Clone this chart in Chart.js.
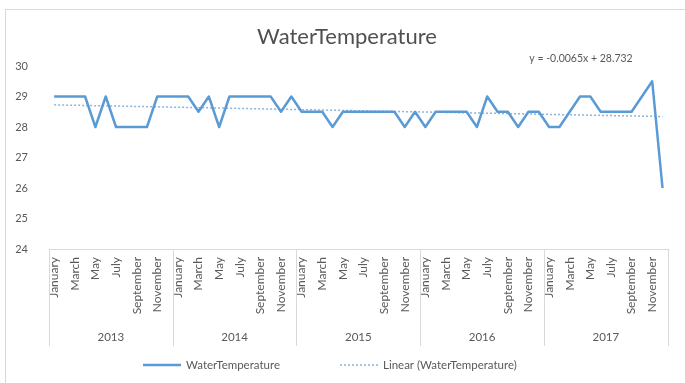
<!DOCTYPE html>
<html>
<head>
<meta charset="utf-8">
<script src="https://cdn.jsdelivr.net/npm/chart.js@4/dist/chart.umd.min.js"></script>
<style>
  html, body { margin: 0; padding: 0; background: #ffffff; }
  #wrap { width: 685px; height: 383px; }
</style>
</head>
<body>
<div id="wrap"><canvas id="c" width="685" height="383"></canvas></div>
<script>
// Monthly water temperature, 2013–2017
const years = ['2013', '2014', '2015', '2016', '2017'];
const months = ['January', 'February', 'March', 'April', 'May', 'June',
                'July', 'August', 'September', 'October', 'November', 'December'];

const temp2013 = [29, 29, 29, 29, 28, 29, 28, 28, 28, 28, 29, 29];
const temp2014 = [29, 29, 28.5, 29, 28, 29, 29, 29, 29, 29, 28.5, 29];
const temp2015 = [28.5, 28.5, 28.5, 28, 28.5, 28.5, 28.5, 28.5, 28.5, 28.5, 28, 28.5];
const temp2016 = [28, 28.5, 28.5, 28.5, 28.5, 28, 29, 28.5, 28.5, 28, 28.5, 28.5];
const temp2017 = [28, 28, 28.5, 29, 29, 28.5, 28.5, 28.5, 28.5, 29, 29.5, 26];

// Linear trend line: y = slope * x + intercept, x = 1..60
const trendSlope = -0.0065;
const trendIntercept = 28.732;

const yTicks = [24, 25, 26, 27, 28, 29, 30];

const seriesName = 'WaterTemperature';
const labels = [];
years.forEach(y => months.forEach(m => labels.push(m + ' ' + y)));
const waterTemp = [].concat(temp2013, temp2014, temp2015, temp2016, temp2017);
const trend = waterTemp.map((_, i) => trendIntercept + trendSlope * (i + 1));

const TEXT = '#595959';
const RULE = '#d9d9d9';
const LINE_BLUE = '#5B9BD5';
const TREND_BLUE = '#8db4d8';
const FONT = 'Lato, "Open Sans", "DejaVu Sans", sans-serif';

const decorations = {
  id: 'decorations',
  beforeDraw(chart) {
    const ctx = chart.ctx;
    ctx.save();
    ctx.fillStyle = '#ffffff';
    ctx.fillRect(0, 0, chart.width, chart.height);
    ctx.strokeStyle = RULE;
    ctx.lineWidth = 1;
    ctx.strokeRect(5.5, 9.5, 700, 400);
    ctx.restore();
  },
  afterDraw(chart) {
    const ctx = chart.ctx;
    const xs = chart.scales.x;
    ctx.save();

    // title
    ctx.fillStyle = '#505050';
    ctx.textAlign = 'center';
    ctx.textBaseline = 'middle';
    ctx.font = '22px ' + FONT;
    ctx.fillText(seriesName, 347, 37);

    // trend equation
    ctx.fillStyle = TEXT;
    ctx.font = '10.5px ' + FONT;
    const sign = trendSlope < 0 ? '-' : '';
    ctx.fillText('y = ' + sign + Math.abs(trendSlope).toFixed(4) + 'x + ' + trendIntercept.toFixed(3), 581, 59);

    // year groups under the month labels
    const yTop = xs.top;
    const yBottom = 346;
    ctx.strokeStyle = RULE;
    ctx.lineWidth = 1;
    const edges = [xs.left];
    for (let k = 1; k < years.length; k++) {
      edges.push((xs.getPixelForValue(12 * k - 1) + xs.getPixelForValue(12 * k)) / 2);
    }
    edges.push(xs.right);
    edges.forEach(x => {
      const px = Math.round(x) + 0.5;
      ctx.beginPath();
      ctx.moveTo(px, yTop);
      ctx.lineTo(px, yBottom);
      ctx.stroke();
    });
    ctx.fillStyle = TEXT;
    ctx.font = '11.5px ' + FONT;
    years.forEach((y, k) => {
      ctx.fillText(y, (edges[k] + edges[k + 1]) / 2, 337);
    });

    // legend
    const items = chart.data.datasets.map(ds => ({
      text: ds.label, color: ds.borderColor, width: ds.borderWidth, dash: ds.borderDash || []
    }));
    const legendStarts = [143, 340];
    const sample = 38, gapText = 5, legendY = 365;
    ctx.font = '11.5px ' + FONT;
    ctx.textAlign = 'left';
    items.forEach((it, i) => {
      const x = legendStarts[i];
      ctx.strokeStyle = it.color;
      ctx.lineWidth = it.width;
      ctx.setLineDash(it.dash);
      ctx.beginPath();
      ctx.moveTo(x, legendY);
      ctx.lineTo(x + sample, legendY);
      ctx.stroke();
      ctx.setLineDash([]);
      ctx.fillStyle = TEXT;
      ctx.fillText(it.text, x + sample + gapText, legendY);
    });
    ctx.restore();
  }
};

new Chart(document.getElementById('c'), {
  type: 'line',
  data: {
    labels: labels,
    datasets: [
      {
        label: seriesName,
        data: waterTemp,
        borderColor: LINE_BLUE,
        backgroundColor: LINE_BLUE,
        borderWidth: 2.5,
        pointRadius: 0,
        tension: 0,
        borderJoinStyle: 'round'
      },
      {
        label: 'Linear (' + seriesName + ')',
        data: trend,
        borderColor: TREND_BLUE,
        backgroundColor: TREND_BLUE,
        borderWidth: 1.5,
        borderDash: [2, 2],
        pointRadius: 0,
        tension: 0
      }
    ]
  },
  options: {
    responsive: false,
    animation: false,
    devicePixelRatio: 1,
    layout: { padding: { top: 66, left: 10, right: 10, bottom: 30 } },
    plugins: {
      title: { display: false },
      tooltip: { enabled: false },
      legend: { display: false }
    },
    scales: {
      x: {
        type: 'category',
        offset: true,
        grid: { display: false, drawTicks: false },
        border: { display: true, color: RULE, width: 1 },
        ticks: {
          autoSkip: false,
          maxRotation: 90,
          minRotation: 90,
          padding: 8,
          color: TEXT,
          font: { family: FONT, size: 12 },
          callback: (v, i) => (i % 2 === 0 ? months[i % 12] : '')
        },
        afterFit: s => { s.height = 104; }
      },
      y: {
        min: 24,
        max: 30,
        grid: { display: false, drawTicks: false },
        border: { display: false },
        afterBuildTicks: s => { s.ticks = yTicks.map(v => ({ value: v })); },
        ticks: {
          padding: 21,
          color: TEXT,
          font: { family: FONT, size: 11 }
        },
        afterFit: s => { s.width = 39; }
      }
    }
  },
  plugins: [decorations]
});
</script>
</body>
</html>
